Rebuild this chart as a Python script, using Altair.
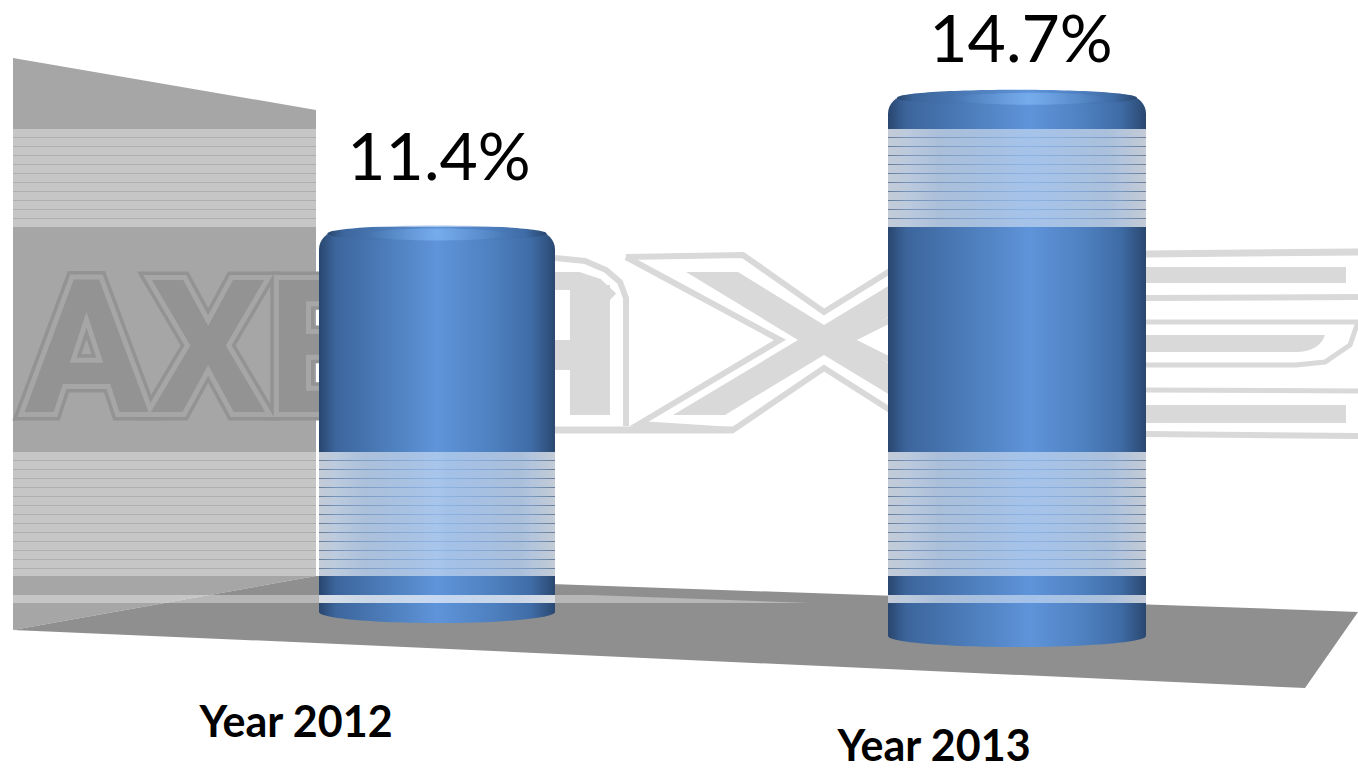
import altair as alt
import pandas as pd

# Chart values
years = ["Year 2012", "Year 2013"]
shares = [11.4, 14.7]

# Perspective layout of the two cylinders (near one is drawn larger)
cyl_left = [319, 888]
cyl_right = [555, 1146]
cyl_ground = [623, 647]
cyl_depth = [0.92, 1.0]
cyl_peak = [0.5, 0.55]
px_per_point = 37.9
value_label_x = [439, 1021]
value_label_y = [180, 62]
year_label_x = [296, 934]
year_label_y = [737, 761]

# Back wall and floor outlines
wall_x = [13, 316]
wall_top = [58, 110]
wall_bottom = [630, 576]
floor_x = [13, 316, 1305, 1358]
floor_top = [630, 576, 610, 612]
floor_bottom = [630, 643, 688, 612]

# Light bands crossing the scene: (top, bottom, first rule, rule count)
bands = [(129, 227, 137, 10), (452, 576, 460, 13)]
rule_step = 9

# Narrow glare near the foot of the wall, tapering out on the floor
glare_x = [13, 590, 810]
glare_top = [595, 595, 603]
glare_bottom = [603, 603, 603]

# Faint logo strokes on the white part of the backdrop: (stroke width, points)
logo_strokes = [
    (6, [(555, 258), (585, 261), (606, 270), (620, 282), (626, 298), (626, 426)]),
    (7, [(555, 430), (733, 430)]),
    (40, [(590, 285), (590, 415)]),
    (18, [(555, 281), (578, 281), (596, 287), (610, 300)]),
    (30, [(555, 355), (580, 355)]),
    (6, [(626, 257), (743, 255), (824, 312), (890, 271)]),
    (6, [(626, 257), (780, 340), (639, 424), (733, 430), (824, 368), (890, 410)]),
    (6, [(890, 320), (850, 340), (890, 360)]),
    (7, [(1146, 254), (1358, 252)]),
    (16, [(1146, 275), (1346, 275)]),
    (6, [(1146, 298), (1358, 297)]),
    (5, [(1146, 322), (1358, 322)]),
    (5, [(1358, 322), (1350, 345), (1325, 362), (1296, 365), (1146, 365)]),
    (5, [(1146, 390), (1358, 391)]),
    (18, [(1146, 414), (1346, 414)]),
    (6, [(1146, 434), (1358, 436)]),
]
# Solid centre of the logo's X and the middle bar of its E, as outlines in page units
logo_fills = [
    "M686,272L738,272L824,325L890,285L890,316L850,340L890,364L890,395L824,355L725,415L673,415L798,340Z",
    "M1146,335L1325,335C1322,345 1312,352 1296,352L1146,352Z",
]

WALL = "#a6a6a6"
FLOOR = "#8f8f8f"
LOGO_ON_WALL = "#939393"
LOGO_FAINT = "#d9d9d9"
TEXT_FONT = "Lato"

xs = alt.Scale(domain=[0, 1358], range=[0, 1358], nice=False, zero=False)
ys = alt.Scale(domain=[770, 0], range=[770, 0], nice=False, zero=False)
X = alt.X("x:Q", scale=xs, axis=None)
Y = alt.Y("y:Q", scale=ys, axis=None)
X2 = alt.X2("x2:Q")
Y2 = alt.Y2("y2:Q")


def body_gradient(peak):
    return alt.LinearGradient(
        gradient="linear", x1=0, x2=1, y1=0, y2=0,
        stops=[
            alt.GradientStop(color="#29466e", offset=0),
            alt.GradientStop(color="#3c659c", offset=0.07),
            alt.GradientStop(color="#4c7cb9", offset=peak * 0.55),
            alt.GradientStop(color="#5f94da", offset=peak),
            alt.GradientStop(color="#4f81c1", offset=peak + (1 - peak) * 0.45),
            alt.GradientStop(color="#3f6ca6", offset=0.9),
            alt.GradientStop(color="#2a4870", offset=1),
        ],
    )


def band_gradient():
    return alt.LinearGradient(
        gradient="linear", x1=0, x2=1, y1=0, y2=0,
        stops=[
            alt.GradientStop(color="rgba(255,255,255,0.72)", offset=0),
            alt.GradientStop(color="rgba(255,255,255,0.55)", offset=0.2),
            alt.GradientStop(color="rgba(255,255,255,0.44)", offset=0.55),
            alt.GradientStop(color="rgba(255,255,255,0.55)", offset=0.85),
            alt.GradientStop(color="rgba(255,255,255,0.72)", offset=1),
        ],
    )


def ellipse_shape(ratio):
    return f"M-1,0A1,{ratio:.4f} 0 1 1 1,0A1,{ratio:.4f} 0 1 1 -1,0Z"


def strips(x0, x1):
    rows = []
    for top, bottom, first, count in bands:
        edges = [first + rule_step * k for k in range(count)]
        starts = [top] + [e + 1 for e in edges]
        ends = edges + [bottom]
        rows += [{"x": x0, "x2": x1, "y": a, "y2": b} for a, b in zip(starts, ends)]
    return rows


def rules(x0, x1):
    rows = []
    for _, _, first, count in bands:
        rows += [{"x": x0, "x2": x1, "y": first + rule_step * k, "y2": first + rule_step * k + 1}
                 for k in range(count)]
    return rows


layers = []

# Wall and floor
layers.append(
    alt.Chart(pd.DataFrame({"x": wall_x, "y": wall_top, "y2": wall_bottom}))
    .mark_area(color=WALL, opacity=1)
    .encode(x=X, y=Y, y2=Y2)
)
layers.append(
    alt.Chart(pd.DataFrame({"x": floor_x, "y": floor_top, "y2": floor_bottom}))
    .mark_area(color=FLOOR, opacity=1)
    .encode(x=X, y=Y, y2=Y2)
)

# Logo on the wall: outline, gap, then solid letter
logo_row = pd.DataFrame({"x": [24], "y": [412], "t": ["AXE"]})
for stroke, width in [(LOGO_ON_WALL, 17), (WALL, 10)]:
    layers.append(
        alt.Chart(logo_row)
        .mark_text(font="Roboto", fontWeight="bold", fontSize=186, align="left",
                   baseline="alphabetic", fill=stroke, stroke=stroke, strokeWidth=width,
                   strokeJoin="miter")
        .encode(x=X, y=Y, text="t:N")
    )
layers.append(
    alt.Chart(logo_row)
    .mark_text(font="Roboto", fontWeight="bold", fontSize=186, align="left",
               baseline="alphabetic", fill=LOGO_ON_WALL)
    .encode(x=X, y=Y, text="t:N")
)

# Faint logo strokes and fills behind the cylinders
for i, (width, points) in enumerate(logo_strokes):
    frame = pd.DataFrame({"x": [p[0] for p in points], "y": [p[1] for p in points],
                          "o": list(range(len(points)))})
    layers.append(
        alt.Chart(frame)
        .mark_line(color=LOGO_FAINT, strokeWidth=width, strokeCap="butt", strokeJoin="miter")
        .encode(x=X, y=Y, order="o:Q")
    )
for outline in logo_fills:
    layers.append(
        alt.Chart(pd.DataFrame({"x": [0], "y": [0]}))
        .mark_point(filled=True, opacity=1, fill=LOGO_FAINT, strokeWidth=0, size=4, shape=outline)
        .encode(x=X, y=Y)
    )

# Cylinders: height comes from the value, scaled by the depth of each one
for value, left, right, ground, depth, peak in zip(shares, cyl_left, cyl_right, cyl_ground, cyl_depth, cyl_peak):
    width = right - left
    top = ground - value * px_per_point * depth
    centre = (left + right) / 2
    layers.append(
        alt.Chart(pd.DataFrame({"x": [centre], "y": [ground - 11]}))
        .mark_point(filled=True, opacity=1, fill=body_gradient(peak), strokeWidth=0,
                    size=width * width, shape=ellipse_shape(11 / (width / 2)))
        .encode(x=X, y=Y)
    )
    layers.append(
        alt.Chart(pd.DataFrame({"x": [left], "x2": [right], "y": [top + 6], "y2": [ground - 11]}))
        .mark_rect(fill=body_gradient(peak), cornerRadiusTopLeft=18, cornerRadiusTopRight=18)
        .encode(x=X, x2=X2, y=Y, y2=Y2)
    )
    dome_w = width * 0.93
    layers.append(
        alt.Chart(pd.DataFrame({"x": [centre], "y": [top + 8]}))
        .mark_point(filled=True, opacity=1, fill=body_gradient(peak), strokeWidth=0,
                    size=dome_w * dome_w, shape=ellipse_shape(8 / (dome_w / 2)))
        .encode(x=X, y=Y)
    )
    glow_w = width * 0.6
    glow = alt.RadialGradient(
        gradient="radial", x1=0.5, y1=0.5, x2=0.5, y2=0.5, r1=0, r2=0.5,
        stops=[
            alt.GradientStop(color="rgba(130,185,245,0.65)", offset=0),
            alt.GradientStop(color="rgba(130,185,245,0.25)", offset=0.5),
            alt.GradientStop(color="rgba(130,185,245,0.0)", offset=1),
        ],
    )
    layers.append(
        alt.Chart(pd.DataFrame({"x": [left + width * peak], "y": [top + 9]}))
        .mark_point(filled=True, opacity=1, fill=glow, strokeWidth=0,
                    size=glow_w * glow_w, shape=ellipse_shape(6 / (glow_w / 2)))
        .encode(x=X, y=Y)
    )

# Light bands with their fine rules, on the wall and across each cylinder
layers.append(
    alt.Chart(pd.DataFrame(strips(wall_x[0], wall_x[1])))
    .mark_rect(color="#ffffff", opacity=0.36)
    .encode(x=X, x2=X2, y=Y, y2=Y2)
)
layers.append(
    alt.Chart(pd.DataFrame(rules(wall_x[0], wall_x[1])))
    .mark_rect(color="#ffffff", opacity=0.1)
    .encode(x=X, x2=X2, y=Y, y2=Y2)
)
layers.append(
    alt.Chart(pd.DataFrame({"x": glare_x, "y": glare_top, "y2": glare_bottom}))
    .mark_area(color="#ffffff", opacity=0.36)
    .encode(x=X, y=Y, y2=Y2)
)
for left, right in zip(cyl_left, cyl_right):
    glare_rows = [{"x": left, "x2": right, "y": glare_top[0], "y2": glare_bottom[0]}]
    layers.append(
        alt.Chart(pd.DataFrame(strips(left, right) + glare_rows))
        .mark_rect(fill=band_gradient())
        .encode(x=X, x2=X2, y=Y, y2=Y2)
    )
    layers.append(
        alt.Chart(pd.DataFrame(rules(left, right)))
        .mark_rect(color="#ffffff", opacity=0.3)
        .encode(x=X, x2=X2, y=Y, y2=Y2)
    )

# Value and category labels
value_rows = pd.DataFrame({"x": value_label_x, "y": value_label_y, "t": [f"{v}%" for v in shares]})
layers.append(
    alt.Chart(value_rows)
    .mark_text(font=TEXT_FONT, fontSize=66, align="center", baseline="alphabetic", color="#000000")
    .encode(x=X, y=Y, text="t:N")
)
year_rows = pd.DataFrame({"x": year_label_x, "y": year_label_y, "t": years})
layers.append(
    alt.Chart(year_rows)
    .mark_text(font=TEXT_FONT, fontWeight="bold", fontSize=43, align="center", baseline="alphabetic", color="#000000")
    .encode(x=X, y=Y, text="t:N")
)

chart = (
    alt.layer(*layers)
    .properties(width=1358, height=770, padding=0, autosize=alt.AutoSizeParams(type="none"),
                background="#ffffff")
    .configure_view(stroke=None)
)

chart.save("out.html", embed_options={"renderer": "svg", "actions": False})
